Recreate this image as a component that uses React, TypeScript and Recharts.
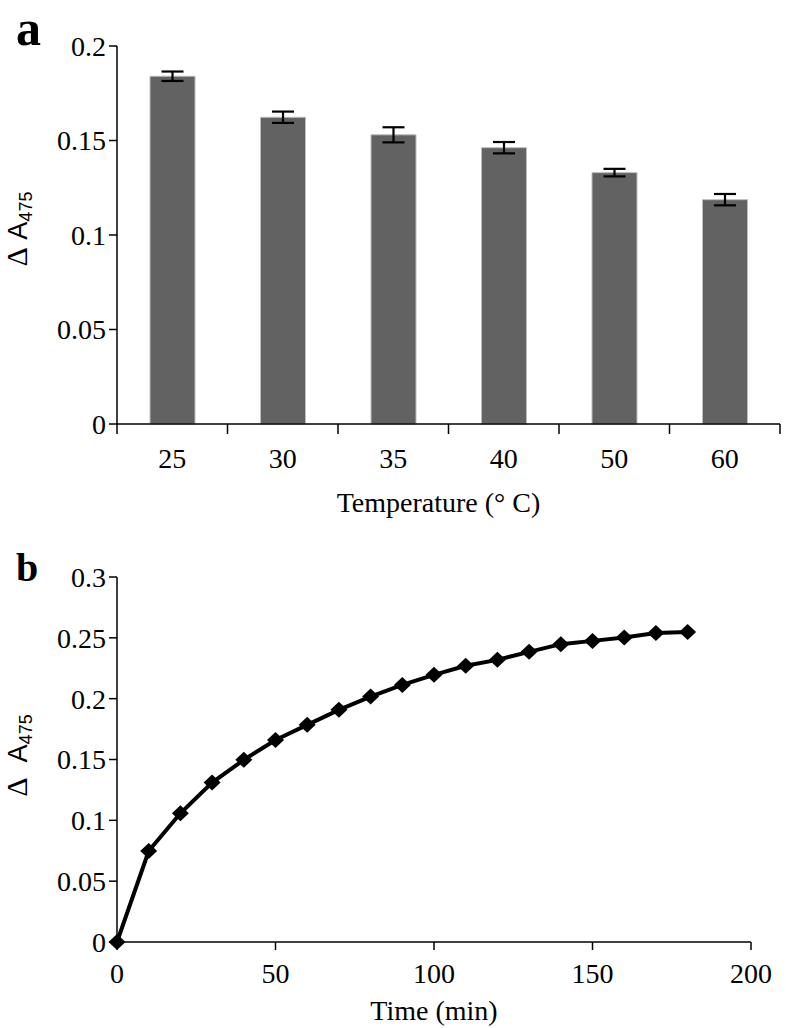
import { BarChart, Bar, ErrorBar, LineChart, Line, XAxis, YAxis, Label } from "recharts";

// panel a: absorbance change vs temperature
const temperatures = ["25", "30", "35", "40", "50", "60"];
const tempSlots = [0.5, 1.5, 2.5, 3.5, 4.5, 5.5];
const absorbanceByTemp = [0.184, 0.1623, 0.153, 0.1462, 0.133, 0.1187];
const tempErrors = [0.0025, 0.003, 0.004, 0.003, 0.002, 0.003];
const slotEdges = [0, 1, 2, 3, 4, 5, 6];
const tempYTicks = [0, 0.05, 0.1, 0.15, 0.2];

// panel b: absorbance change vs time
const times = [0, 10, 20, 30, 40, 50, 60, 70, 80, 90, 100, 110, 120, 130, 140, 150, 160, 170, 180];
const absorbanceByTime = [
  0, 0.0748, 0.1058, 0.131, 0.1497, 0.166, 0.1785, 0.1908, 0.2017, 0.2113, 0.2196,
  0.227, 0.2319, 0.2385, 0.2448, 0.2475, 0.2502, 0.2539, 0.2547,
];
const timeXTicks = [0, 50, 100, 150, 200];
const timeYTicks = [0, 0.05, 0.1, 0.15, 0.2, 0.25, 0.3];

const SERIF = "'Liberation Serif', 'Times New Roman', serif";
const SANS = "'Liberation Sans', Arial, sans-serif";
const tickStyle = { fontSize: 28, fill: "#000", fontFamily: SERIF };
const axisStroke = { stroke: "#000", strokeWidth: 1.5 };

const tempData = temperatures.map((t, i) => ({
  temp: t,
  slot: tempSlots[i],
  value: absorbanceByTemp[i],
  err: tempErrors[i],
}));

const timeData = times.map((t, i) => ({ t, value: absorbanceByTime[i] }));

function DeltaLabel(props: any) {
  const { viewBox, shift = 0, spaced = false } = props;
  if (!viewBox) return null;
  const cx = viewBox.x + 27;
  const cy = viewBox.y + viewBox.height / 2 + shift;
  return (
    <text
      x={cx}
      y={cy}
      transform={`rotate(-90 ${cx} ${cy})`}
      textAnchor="middle"
      fontSize={27}
      fill="#000"
    >
      <tspan fontFamily={SERIF} fontSize={30}>Δ</tspan>
      <tspan fontFamily={SANS}>{spaced ? "\u00a0\u00a0A" : "\u00a0A"}</tspan>
      <tspan fontFamily={SANS} fontSize={18} dy={5}>
        475
      </tspan>
    </text>
  );
}

function Diamond(props: any) {
  const { cx, cy, index } = props;
  if (cx == null || cy == null) return null;
  return (
    <path
      key={`d-${index}`}
      d={`M${cx},${cy - 8} L${cx + 8.5},${cy} L${cx},${cy + 8} L${cx - 8.5},${cy} Z`}
      fill="#000"
    />
  );
}

const panelLetter = (size: number): React.CSSProperties => ({
  position: "absolute",
  left: 16,
  fontFamily: SERIF,
  fontWeight: "bold",
  fontSize: size,
  lineHeight: "1",
  color: "#000",
});

export default function App() {
  return (
    <div style={{ position: "absolute", left: 0, top: 0, width: 786, height: 1028, background: "#fff" }}>
      <div style={{ ...panelLetter(50), top: 3 }}>a</div>
      <div style={{ ...panelLetter(40), top: 548 }}>b</div>

      <div style={{ position: "absolute", left: 0, top: 0 }}>
        <BarChart width={786} height={530} data={tempData} margin={{ top: 46, right: 6, bottom: 0, left: 0 }}>
          <XAxis
            xAxisId="edge"
            type="number"
            dataKey="slot"
            domain={[0, 6]}
            ticks={slotEdges}
            interval={0}
            allowDataOverflow
            tickFormatter={() => ""}
            tickSize={10}
            height={12}
            axisLine={axisStroke}
            tickLine={axisStroke}
          />
          <XAxis
            xAxisId="names"
            type="number"
            dataKey="slot"
            domain={[0, 6]}
            ticks={tempSlots}
            interval={0}
            allowDataOverflow
            tickFormatter={(v: number) => temperatures[Math.floor(v)]}
            axisLine={false}
            tickLine={false}
            tickSize={0}
            tickMargin={12}
            height={94}
            tick={tickStyle}
          >
            <Label
              value="Temperature  (° C)"
              position="insideBottom"
              offset={18}
              dx={-10}
              style={{ fontSize: 28, fill: "#000", fontFamily: SERIF, whiteSpace: "pre" }}
            />
          </XAxis>
          <YAxis
            type="number"
            domain={[0, 0.2]}
            ticks={tempYTicks}
            interval={0}
            width={117}
            tickSize={8}
            tickMargin={3}
            axisLine={axisStroke}
            tickLine={axisStroke}
            tick={tickStyle}
            label={<DeltaLabel shift={-6} />}
          />
          <Bar
            xAxisId="edge"
            dataKey="value"
            barSize={45}
            fill="#626262"
            stroke="#bdbdbd"
            strokeWidth={1}
            isAnimationActive={false}
          >
            <ErrorBar dataKey="err" width={11} strokeWidth={2.2} stroke="#000" />
          </Bar>
        </BarChart>
      </div>

      <div style={{ position: "absolute", left: 0, top: 530 }}>
        <LineChart width={786} height={498} data={timeData} margin={{ top: 47, right: 35, bottom: 0, left: 0 }}>
          <XAxis
            type="number"
            dataKey="t"
            domain={[0, 200]}
            ticks={timeXTicks}
            interval={0}
            tickSize={8}
            tickMargin={13}
            height={86}
            axisLine={axisStroke}
            tickLine={axisStroke}
            tick={tickStyle}
          >
            <Label
              value="Time (min)"
              position="insideBottom"
              offset={8}
              style={{ fontSize: 28, fill: "#000", fontFamily: SERIF }}
            />
          </XAxis>
          <YAxis
            type="number"
            domain={[0, 0.3]}
            ticks={timeYTicks}
            interval={0}
            width={117}
            tickSize={8}
            tickMargin={3}
            axisLine={axisStroke}
            tickLine={axisStroke}
            tick={tickStyle}
            label={<DeltaLabel shift={-4} spaced />}
          />
          <Line
            type="linear"
            dataKey="value"
            stroke="#000"
            strokeWidth={4}
            dot={<Diamond />}
            activeDot={false}
            isAnimationActive={false}
          />
        </LineChart>
      </div>
    </div>
  );
}
